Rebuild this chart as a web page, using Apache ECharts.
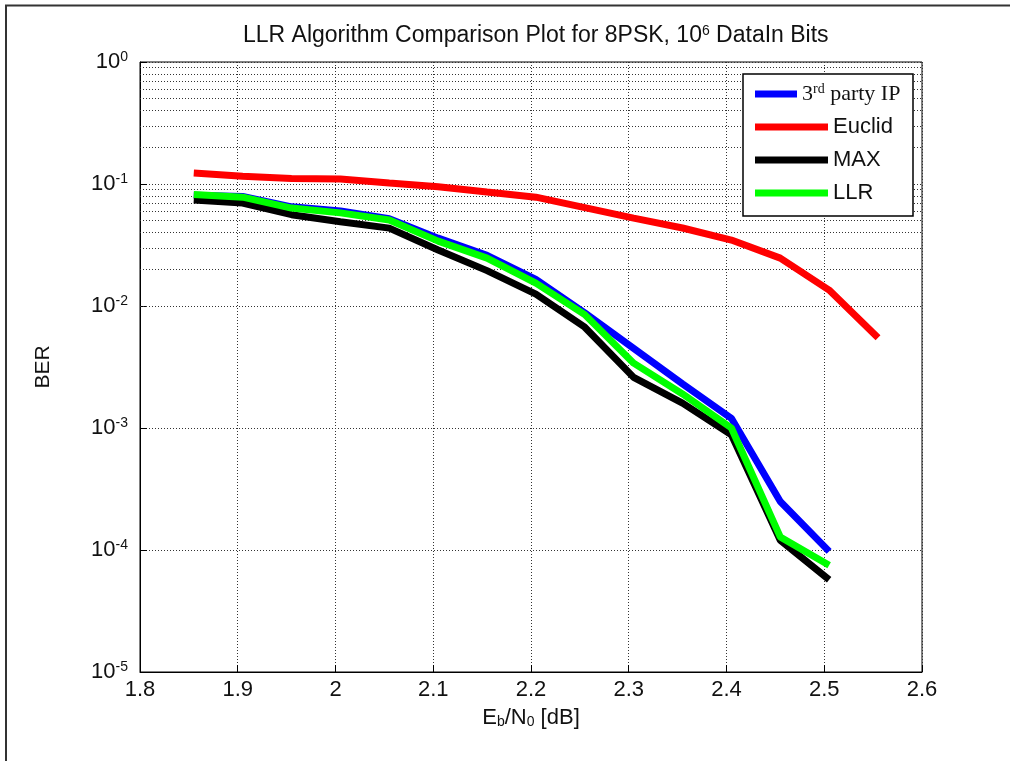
<!DOCTYPE html>
<html>
<head>
<meta charset="utf-8">
<script src="https://cdn.jsdelivr.net/npm/echarts@6/dist/echarts.min.js"></script>
<style>
  html, body { margin: 0; padding: 0; background: #fff; }
  #main { width: 1010px; height: 761px; }
</style>
</head>
<body>
<div id="main"></div>
<script>
// Eb/N0 points (dB)
var ebn0 = [1.855, 1.905, 1.955, 2.005, 2.055, 2.105, 2.155, 2.205, 2.255, 2.305, 2.355, 2.405, 2.455, 2.505];
var ebn0Euclid = [1.855, 1.905, 1.955, 2.005, 2.055, 2.105, 2.155, 2.205, 2.255, 2.305, 2.355, 2.405, 2.455, 2.505, 2.555];

// BER values
var berThirdParty = [0.081, 0.079, 0.065, 0.060, 0.052, 0.036, 0.026, 0.0165, 0.0088, 0.0045, 0.0023, 0.0012, 0.00025, 0.0000975];
var berEuclid = [0.123, 0.116, 0.111, 0.110, 0.102, 0.095, 0.086, 0.078, 0.064, 0.0525, 0.0436, 0.0347, 0.0247, 0.0135, 0.0055];
var berMax = [0.074, 0.0699, 0.056, 0.049, 0.0435, 0.0288, 0.0195, 0.0125, 0.0067, 0.0026, 0.0016, 0.00088, 0.00012, 0.000057];
var berLlr = [0.082, 0.078, 0.0635, 0.058, 0.0507, 0.034, 0.0247, 0.0154, 0.0085, 0.0034, 0.0019, 0.001, 0.000128, 0.000075];

var seriesNames = ['3rd party IP', 'Euclid', 'MAX', 'LLR'];
var seriesColors = ['#0000ff', '#ff0000', '#000000', '#00ff00'];

// minor grid lines of the log axis (2..9 in each decade)
var minorGrid = [];
for (var e = -5; e < 0; e++) {
    for (var k = 2; k <= 9; k++) {
        minorGrid.push({ yAxis: k * Math.pow(10, e) });
    }
}

function pairs(xs, ys) {
    return xs.map(function (x, i) { return [x, ys[i]]; });
}

var myChart = echarts.init(document.getElementById('main'));

var dotted = { color: '#333', width: 1, type: [1, 2] };
var txt = '#111';

var legendText = {
    fontFamily: 'Liberation Sans',
    fontSize: 22,
    color: txt,
    lineHeight: 24,
    rich: {
        t: { fontFamily: 'Liberation Serif', fontSize: 22, color: txt, lineHeight: 24 },
        ts: { fontFamily: 'Liberation Serif', fontSize: 14, color: txt, verticalAlign: 'top', lineHeight: 14 }
    }
};

function lineSeries(i, xs, ys) {
    return {
        name: seriesNames[i],
        type: 'line',
        data: pairs(xs, ys),
        showSymbol: false,
        color: seriesColors[i],
        lineStyle: { width: 7, color: seriesColors[i] },
        z: 3 + i
    };
}

myChart.setOption({
    animation: false,
    backgroundColor: '#fff',
    title: {
        text: 'LLR Algorithm Comparison Plot for 8PSK, 10{s|6} DataIn Bits',
        left: 238,
        top: 19,
        textStyle: {
            fontFamily: 'Liberation Sans',
            fontSize: 23,
            fontWeight: 'normal',
            color: txt,
            rich: {
                s: { fontSize: 14, verticalAlign: 'top', fontFamily: 'Liberation Sans', color: txt }
            }
        }
    },
    graphic: [
        { type: 'line', shape: { x1: 5, y1: 5.5, x2: 1010, y2: 5.5 }, style: { stroke: '#333', lineWidth: 2 } },
        { type: 'line', shape: { x1: 6, y1: 5, x2: 6, y2: 761 }, style: { stroke: '#333', lineWidth: 2 } },
        {
            type: 'rect', z: 10,
            shape: { x: 743, y: 74, width: 170, height: 142 },
            style: { fill: '#fff', stroke: '#000', lineWidth: 1.5 }
        }
    ],
    grid: {
        left: 140,
        right: 88,
        top: 62,
        bottom: 89,
        show: true,
        borderColor: '#000',
        borderWidth: 1,
        backgroundColor: '#fff'
    },
    legend: [
        {
            z: 20,
            orient: 'vertical',
            left: 755,
            top: 82,
            padding: 0,
            itemWidth: 42,
            itemHeight: 7,
            icon: 'rect',
            data: [seriesNames[0]],
            textStyle: legendText,
            formatter: function () { return '{t|3}{ts|rd}{t| party IP}'; }
        },
        {
            z: 20,
            orient: 'vertical',
            left: 755,
            top: 115,
            padding: 0,
            itemWidth: 73,
            itemHeight: 7,
            itemGap: 9,
            icon: 'rect',
            data: seriesNames.slice(1),
            textStyle: legendText
        }
    ],
    xAxis: {
        type: 'value',
        min: 1.8,
        max: 2.6,
        interval: 0.1,
        name: 'E{sub|b}/N{sub|0} [dB]',
        nameLocation: 'middle',
        nameGap: 35,
        nameTextStyle: {
            fontFamily: 'Liberation Sans',
            fontSize: 22,
            color: txt,
            rich: {
                sub: { fontSize: 14, verticalAlign: 'bottom', color: txt }
            }
        },
        axisLine: { lineStyle: { color: '#000', width: 1 } },
        axisTick: { inside: true, length: 7, lineStyle: { color: '#000' } },
        axisLabel: {
            margin: 7,
            fontFamily: 'Liberation Sans',
            fontSize: 22,
            color: txt,
            formatter: function (v) { return String(parseFloat(v.toFixed(1))); }
        },
        splitLine: { show: true, lineStyle: dotted }
    },
    yAxis: {
        type: 'log',
        logBase: 10,
        min: 1e-5,
        max: 1,
        interval: 1,
        name: 'BER',
        nameLocation: 'middle',
        nameGap: 86,
        nameTextStyle: { fontFamily: 'Liberation Sans', fontSize: 21, color: txt },
        axisLine: { lineStyle: { color: '#000', width: 1 } },
        axisTick: { inside: true, length: 7, lineStyle: { color: '#000' } },
        axisLabel: {
            margin: 12,
            fontFamily: 'Liberation Sans',
            fontSize: 22,
            color: txt,
            formatter: function (v) {
                var ex = Math.round(Math.log(v) / Math.LN10);
                return '{b|10}{s|' + ex + '}';
            },
            rich: {
                b: { fontSize: 22, fontFamily: 'Liberation Sans', color: txt },
                s: { fontSize: 14, fontFamily: 'Liberation Sans', color: txt, verticalAlign: 'top', padding: [0, 0, 10, 0] }
            }
        },
        splitLine: { show: true, lineStyle: dotted }
    },
    series: [
        {
            name: 'minor-grid',
            type: 'line',
            data: [],
            silent: true,
            z: 1,
            markLine: {
                silent: true,
                symbol: 'none',
                z: 1,
                label: { show: false },
                lineStyle: dotted,
                emphasis: { disabled: true },
                data: minorGrid
            }
        },
        lineSeries(0, ebn0, berThirdParty),
        lineSeries(1, ebn0Euclid, berEuclid),
        lineSeries(2, ebn0, berMax),
        lineSeries(3, ebn0, berLlr)
    ]
});
</script>
</body>
</html>
